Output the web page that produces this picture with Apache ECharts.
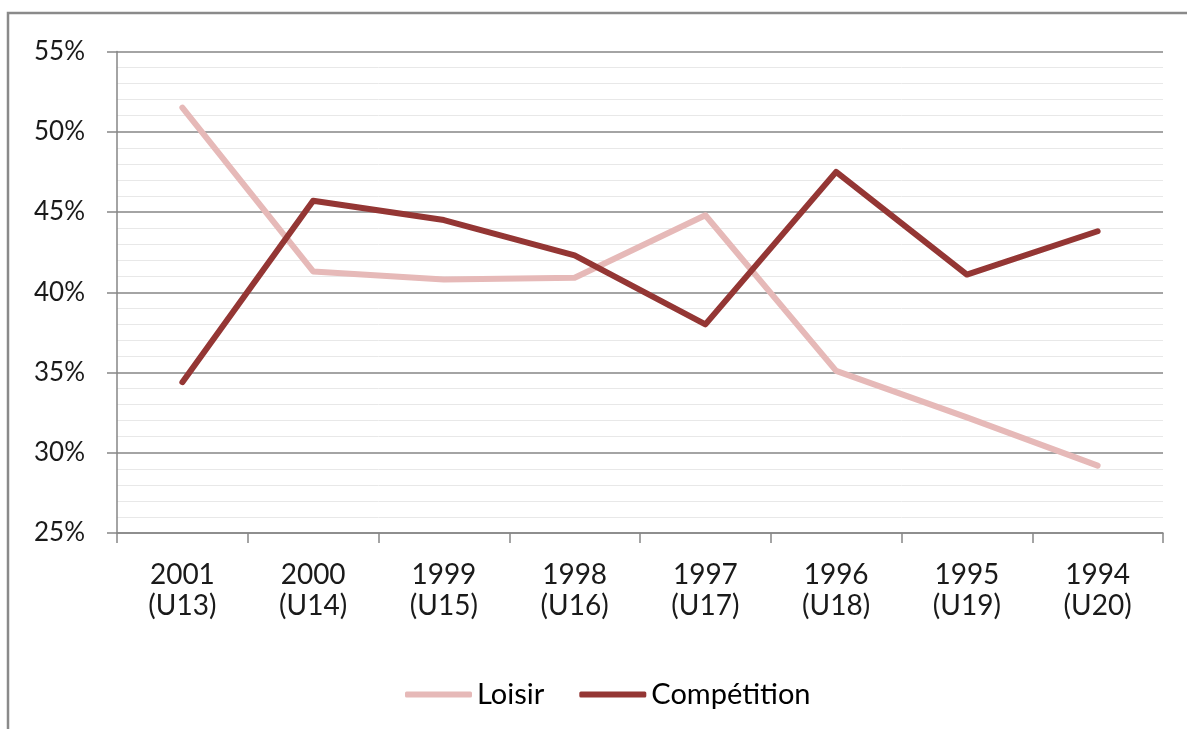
<!DOCTYPE html>
<html>
<head>
<meta charset="utf-8">
<style>
html,body{margin:0;padding:0;background:#fff;}
#c{width:1187px;height:729px;}
</style>
<script src="https://cdn.jsdelivr.net/npm/echarts@6/dist/echarts.min.js"></script>
</head>
<body>
<div id="c"></div>
<script>
var categories = ['2001\n(U13)', '2000\n(U14)', '1999\n(U15)', '1998\n(U16)', '1997\n(U17)', '1996\n(U18)', '1995\n(U19)', '1994\n(U20)'];
var loisir = [51.5, 41.3, 40.8, 40.9, 44.8, 35.1, 32.2, 29.2];
var competition = [34.4, 45.7, 44.5, 42.3, 38.0, 47.5, 41.1, 43.8];
var seriesNames = ['Loisir', 'Compétition'];

var chart = echarts.init(document.getElementById('c'), null, {renderer: 'canvas'});
var font = 'Lato';
chart.setOption({
  animation: false,
  backgroundColor: '#fff',
  graphic: [{
    type: 'rect',
    shape: {x: 8, y: 13, width: 1400, height: 900},
    style: {fill: 'none', stroke: '#8a8a8a', lineWidth: 2.5},
    silent: true
  }],
  grid: {left: 117, right: 24, top: 51.5, bottom: 196, containLabel: false},
  xAxis: {
    type: 'category',
    data: categories,
    boundaryGap: true,
    axisLine: {lineStyle: {color: '#868686', width: 1.5}},
    axisTick: {show: true, length: 10, alignWithLabel: false, lineStyle: {color: '#868686', width: 1.5}},
    axisLabel: {color: '#1a1a1a', fontFamily: font, fontSize: 28, lineHeight: 31, margin: 26},
    splitLine: {show: false}
  },
  yAxis: {
    type: 'value',
    min: 25, max: 55, interval: 5,
    axisLine: {show: true, lineStyle: {color: '#868686', width: 1.5}},
    axisTick: {show: true, length: 10, lineStyle: {color: '#868686', width: 1.5}},
    axisLabel: {color: '#1a1a1a', fontFamily: font, fontSize: 26, margin: 32, formatter: '{value}%'},
    splitLine: {show: true, lineStyle: {color: '#868686', width: 1.5}},
    minorTick: {show: false, splitNumber: 5},
    minorSplitLine: {show: true, lineStyle: {color: '#e8e8e8', width: 1}}
  },
  legend: {
    left: 400, top: 675,
    itemWidth: 67, itemHeight: 6, itemGap: 35,
    icon: 'roundRect',
    textStyle: {color: '#000', fontFamily: font, fontSize: 29, padding: [0, 0, 0, 0]},
    data: seriesNames
  },
  series: [
    {
      name: seriesNames[0], type: 'line', data: loisir,
      symbol: 'none', z: 2,
      lineStyle: {color: '#E6B9B8', width: 6, cap: 'round', join: 'round'},
      itemStyle: {color: '#E6B9B8'}
    },
    {
      name: seriesNames[1], type: 'line', data: competition,
      symbol: 'none', z: 3,
      lineStyle: {color: '#943634', width: 6, cap: 'round', join: 'round'},
      itemStyle: {color: '#943634'}
    }
  ]
});
</script>
</body>
</html>
